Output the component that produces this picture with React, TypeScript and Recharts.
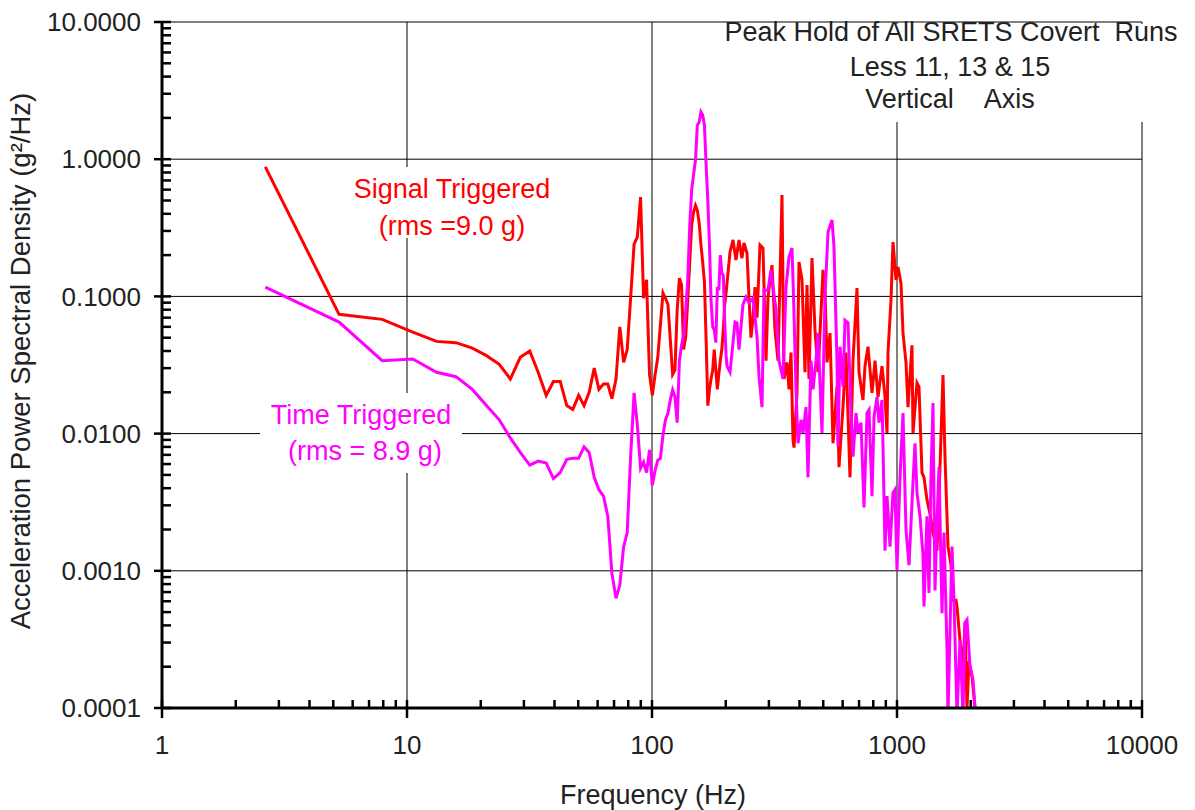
import { Line, LineChart, ReferenceLine, XAxis, YAxis } from "recharts";

const FONT = '"Liberation Sans", Arial, sans-serif';

// frequency (Hz), PSD (g^2/Hz)
const signalTriggered: [number, number][] = [
  [2.64, 0.88], [5.28, 0.074], [7.92, 0.068], [10.56, 0.055], [13.2, 0.047], [15.84, 0.046],
  [18.48, 0.042], [21.1, 0.037], [23.8, 0.032], [26.4, 0.025], [29.0, 0.036], [31.7, 0.04],
  [34.3, 0.028], [37.0, 0.019], [39.6, 0.024], [42.2, 0.024], [44.9, 0.016], [47.5, 0.015],
  [50.2, 0.019], [52.8, 0.016], [55.4, 0.02], [58.1, 0.03], [60.7, 0.021], [63.4, 0.023],
  [66.0, 0.023], [68.6, 0.018], [71.3, 0.025], [73.9, 0.06], [76.6, 0.033], [79.2, 0.041],
  [81.8, 0.097], [84.5, 0.24], [87.1, 0.27], [89.8, 0.53], [92.4, 0.097], [95.0, 0.132],
  [97.7, 0.027], [100.3, 0.019], [103, 0.027], [105.6, 0.036], [108.2, 0.062], [110.9, 0.106],
  [113.5, 0.097], [116.2, 0.087], [118.8, 0.048], [121.4, 0.027], [124.1, 0.029], [126.7, 0.08],
  [129.4, 0.136], [132, 0.121], [134.6, 0.041], [137.3, 0.051], [139.9, 0.094], [142.6, 0.178],
  [145.2, 0.331], [147.8, 0.41], [150.5, 0.46], [153.1, 0.426], [155.8, 0.343], [158.4, 0.237],
  [161, 0.178], [163.7, 0.127], [166.3, 0.048], [169, 0.016], [171.6, 0.021], [174.2, 0.025],
  [176.9, 0.029], [179.5, 0.041], [182.2, 0.029], [184.8, 0.021], [187.4, 0.027], [190.1, 0.034],
  [192.7, 0.041], [195.4, 0.057], [198, 0.087], [200.6, 0.106], [208.2, 0.211], [214.1, 0.258],
  [220.2, 0.184], [226.5, 0.258], [232.9, 0.19], [237.4, 0.245], [244.2, 0.207], [248.8, 0.099],
  [253.6, 0.05], [258.4, 0.07], [263.3, 0.117], [268.3, 0.07], [275.9, 0.237], [283.8, 0.225],
  [292.0, 0.034], [297.5, 0.099], [308.9, 0.169], [317.7, 0.057], [326.8, 0.034], [339.3, 0.548],
  [345.8, 0.025], [355.6, 0.033], [362.4, 0.021], [369.3, 0.039], [376.3, 0.009], [379.8, 0.0079],
  [390.7, 0.0198], [398.1, 0.178], [409.5, 0.132], [421.2, 0.028], [429.2, 0.121], [437.3, 0.025],
  [449.8, 0.19], [462.7, 0.057], [476.0, 0.028], [489.6, 0.076], [498.9, 0.156], [508.3, 0.111],
  [518.0, 0.033], [532.8, 0.054], [548.1, 0.0085], [569.1, 0.022], [579.9, 0.0057], [601.9, 0.0156],
  [619.1, 0.039], [642.9, 0.0048], [661.3, 0.034], [686.6, 0.115], [699.6, 0.028], [726.4, 0.0176],
  [740.2, 0.031], [761.4, 0.043], [790.7, 0.0198], [813.3, 0.034], [836.5, 0.0185], [868.6, 0.031],
  [893.4, 0.0185], [910.4, 0.0101], [919.0, 0.039], [945.2, 0.094], [963.2, 0.249], [990.6, 0.132],
  [1009.5, 0.164], [1038.3, 0.125], [1058.1, 0.054], [1088.1, 0.033], [1108.9, 0.0156], [1151.3, 0.044],
  [1162.2, 0.0101], [1206.7, 0.0234], [1229.6, 0.0219], [1264.7, 0.0052], [1288.8, 0.0048], [1325.5, 0.0033],
  [1363.5, 0.0026], [1402.5, 0.0019], [1456.4, 0.0014], [1497.9, 0.0057], [1540.8, 0.0267], [1570, 0.0068],
  [1615, 0.0015], [1661.1, 0.0011], [1692.7, 0.00061], [1741, 0.00061], [1757.5, 0.00055], [1807.6, 0.00031],
  [1859.4, 0.0002], [1894.8, 0.00042], [1930.7, 0.0001], [1967.5, 0.00022], [2023.6, 0.00017], [2081.5, 0.0001],
];

const timeTriggered: [number, number][] = [
  [2.64, 0.117], [5.28, 0.065], [7.92, 0.034], [10.56, 0.035], [13.2, 0.028], [15.84, 0.026],
  [18.48, 0.021], [21.1, 0.016], [23.8, 0.0126], [26.4, 0.0093], [29.0, 0.0073], [31.7, 0.0059],
  [34.3, 0.0063], [37.0, 0.0061], [39.6, 0.0047], [42.2, 0.0052], [44.9, 0.0065], [47.5, 0.0066],
  [50.2, 0.0066], [52.8, 0.008], [55.4, 0.0073], [58.1, 0.0048], [60.7, 0.0039], [63.4, 0.0035],
  [66.0, 0.0025], [68.6, 0.00096], [71.3, 0.00063], [73.9, 0.00079], [76.6, 0.0015], [79.2, 0.0019],
  [81.8, 0.0068], [84.5, 0.0198], [87.1, 0.0116], [89.8, 0.0056], [92.4, 0.0062], [95.0, 0.0052],
  [97.7, 0.0076], [100.3, 0.0042], [103, 0.0054], [105.6, 0.0064], [108.2, 0.0066], [110.9, 0.0098],
  [113.5, 0.0126], [116.2, 0.0141], [118.8, 0.0176], [121.4, 0.0208], [124.1, 0.0185], [126.7, 0.012],
  [129.4, 0.034], [132, 0.044], [134.6, 0.052], [137.3, 0.08], [139.9, 0.132], [142.6, 0.33],
  [145.2, 0.6], [147.8, 0.77], [150.5, 0.99], [153.1, 1.77], [155.8, 1.87], [158.4, 2.21],
  [161, 2.1], [163.7, 1.77], [166.3, 0.91], [169, 0.5], [171.6, 0.237], [174.2, 0.094],
  [176.9, 0.06], [179.5, 0.057], [182.2, 0.046], [184.8, 0.117], [187.4, 0.111], [190.1, 0.2],
  [192.7, 0.148], [195.4, 0.143], [198, 0.067], [200.6, 0.037], [202.4, 0.031], [208.2, 0.028],
  [214.1, 0.046], [218.2, 0.065], [222.3, 0.064], [226.5, 0.041], [235.1, 0.087], [241.9, 0.099],
  [248.8, 0.09], [258.4, 0.097], [268.3, 0.051], [273.4, 0.026], [281.2, 0.0156], [286.5, 0.111],
  [297.5, 0.111], [305.9, 0.156], [311.8, 0.117], [320.7, 0.08], [329.9, 0.034], [342.5, 0.025],
  [352.4, 0.117], [362.4, 0.194], [372.8, 0.225], [379.8, 0.076], [387.1, 0.021], [394.4, 0.0085],
  [405.7, 0.0126], [413.4, 0.0101], [425.2, 0.0156], [433.2, 0.0048], [445.6, 0.034], [454.1, 0.021],
  [467, 0.034], [476, 0.054], [494.2, 0.0101], [508.3, 0.099], [522.9, 0.295], [542.9, 0.36],
  [553.2, 0.23], [569.1, 0.033], [574.4, 0.0081], [585.3, 0.043], [601.9, 0.022], [613.4, 0.067],
  [631, 0.064], [649.2, 0.0141], [661.3, 0.0068], [680.3, 0.0141], [693, 0.0101], [712.9, 0.012],
  [733.3, 0.0029], [754.4, 0.0141], [768.7, 0.0149], [790.7, 0.0035], [805.8, 0.0132], [828.7, 0.0185],
  [844.4, 0.012], [868.6, 0.0176], [876.8, 0.008], [893.4, 0.0014], [910.4, 0.0035], [936.4, 0.0015],
  [963.2, 0.0037], [981.3, 0.0039], [1000, 0.001], [1028.5, 0.0048], [1058.1, 0.0141], [1068.2, 0.0072],
  [1088.1, 0.002], [1119.4, 0.0011], [1162.2, 0.0044], [1184.4, 0.0085], [1206.7, 0.0037], [1241.6, 0.0025],
  [1276.8, 0.0013], [1288.8, 0.00055], [1325.5, 0.0025], [1350.6, 0.00069], [1376.3, 0.0048], [1402.5, 0.0167],
  [1429.2, 0.00072], [1456.4, 0.0023], [1484.1, 0.0057], [1526.3, 0.00049], [1555.5, 0.0019], [1599.8, 0.00027],
  [1615, 0.00009], [1676.9, 0.0015], [1708.7, 0.00061], [1757.5, 0.00009], [1807.6, 0.00031], [1859.4, 0.00009],
  [1894.8, 0.00042], [1930.7, 0.00044], [1986.5, 0.0002], [2042.6, 0.00016], [2081.5, 0.0001],
];

const xDecades = [1, 10, 100, 1000, 10000];
const yDecades = [0.0001, 0.001, 0.01, 0.1, 1, 10];

const withMinors = (decades: number[]) => {
  const out: number[] = [];
  decades.forEach((d, i) => {
    out.push(d);
    if (i < decades.length - 1) for (let m = 2; m <= 9; m++) out.push(+(d * m).toPrecision(6));
  });
  return out;
};

const isDecade = (v: number) => Math.abs(Math.log10(v) - Math.round(Math.log10(v))) < 1e-6;

const toRows = (pts: [number, number][]) => pts.map(([f, v]) => ({ f, v }));

function XTick(props: any) {
  const { x, y, payload } = props;
  const major = isDecade(payload.value);
  return (
    <g>
      <line x1={x} x2={x} y1={y - 8} y2={major ? y + 10 : y} stroke="#000" strokeWidth={2.5} />
      {major && (
        <text x={x} y={y + 37} dy="0.35em" textAnchor="middle" fontFamily={FONT} fontSize={26} fill="#222">
          {payload.value}
        </text>
      )}
    </g>
  );
}

function YTick(props: any) {
  const { x, y, payload } = props;
  const major = isDecade(payload.value);
  return (
    <g>
      <line x1={major ? x - 8 : x} x2={x + 9} y1={y} y2={y} stroke="#000" strokeWidth={2.5} />
      {major && (
        <text x={x - 21} y={y} dy="0.35em" textAnchor="end" fontFamily={FONT} fontSize={26} fill="#222">
          {payload.value.toFixed(4)}
        </text>
      )}
    </g>
  );
}

const textStyle = { fontFamily: FONT, fontSize: 27 };

export default function App() {
  return (
    <div style={{ position: "absolute", left: 0, top: 0, width: 1195, height: 810, background: "#fff" }}>
      <LineChart width={1195} height={810} margin={{ top: 22, right: 53, bottom: 42, left: 12 }}>
        {xDecades.slice(1).map((d) => (
          <ReferenceLine key={"x" + d} x={d} stroke="#000" strokeWidth={1} />
        ))}
        {yDecades.slice(1).map((d) => (
          <ReferenceLine key={"y" + d} y={d} stroke="#000" strokeWidth={1} />
        ))}
        <XAxis
          dataKey="f"
          type="number"
          scale="log"
          domain={[1, 10000]}
          ticks={withMinors(xDecades)}
          interval={0}
          allowDataOverflow
          height={60}
          tickSize={0}
          tickMargin={0}
          tickLine={false}
          tick={(p: any) => <XTick {...p} />}
          axisLine={{ stroke: "#000", strokeWidth: 3 }}
        />
        <YAxis
          dataKey="v"
          type="number"
          scale="log"
          domain={[0.0001, 10]}
          ticks={withMinors(yDecades)}
          interval={0}
          allowDataOverflow
          width={150}
          tickSize={0}
          tickMargin={0}
          tickLine={false}
          tick={(p: any) => <YTick {...p} />}
          axisLine={{ stroke: "#000", strokeWidth: 3 }}
        />
        <Line
          data={toRows(signalTriggered)}
          dataKey="v"
          type="linear"
          stroke="#ff0000"
          strokeWidth={3}
          dot={false}
          isAnimationActive={false}
        />
        <Line
          data={toRows(timeTriggered)}
          dataKey="v"
          type="linear"
          stroke="#ff00ff"
          strokeWidth={3}
          dot={false}
          isAnimationActive={false}
        />
      </LineChart>
      <svg
        width={1195}
        height={810}
        style={{ position: "absolute", left: 0, top: 0, pointerEvents: "none" }}
      >
        <rect x={718} y={24} width={470} height={98} fill="#fff" />
        <rect x={345} y={167} width={215} height={71} fill="#fff" />
        <rect x={260} y={393} width={202} height={80} fill="#fff" />
        <g style={textStyle} fill="#222" textAnchor="middle">
          <text x={951} y={41} xmlSpace="preserve">{"Peak Hold of All SRETS Covert\u00a0 Runs"}</text>
          <text x={950} y={76}>Less 11, 13 &amp; 15</text>
          <text x={950} y={108} xmlSpace="preserve">{"Vertical\u00a0\u00a0 \u00a0Axis"}</text>
          <text x={653} y={804}>Frequency (Hz)</text>
          <text transform="translate(30,361) rotate(-90)" fontSize={27.5}>
            Acceleration Power Spectral Density (g²/Hz)
          </text>
        </g>
        <g style={textStyle} fill="#ff0000" textAnchor="middle">
          <text x={452} y={198}>Signal Triggered</text>
          <text x={452} y={235}>(rms =9.0 g)</text>
        </g>
        <g style={textStyle} fill="#ff00ff" textAnchor="middle">
          <text x={361} y={424}>Time Triggered</text>
          <text x={365} y={460}>(rms = 8.9 g)</text>
        </g>
      </svg>
    </div>
  );
}
